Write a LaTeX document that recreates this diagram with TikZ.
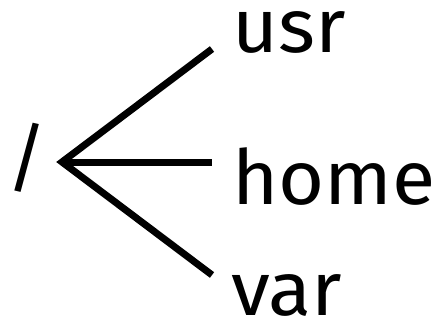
\documentclass[tikz,border=0pt]{standalone}
\usepackage{fontspec}
\setmainfont{Fira Sans}[FakeStretch=1.04]
\begin{document}
\begin{tikzpicture}[x=1pt, y=-1pt,
  label/.style={font=\fontsize{76}{76}\selectfont, inner sep=0pt, anchor=base west},
  branch/.style={line width=7pt, line cap=butt, line join=miter}]
  \useasboundingbox (0,0) rectangle (435,326);
  % root and the children
  \node[label] (root) at (6,184) {/};
  \node[label] (usr)  at (232,53)  {usr};
  \node[label] (home) at (232,204) {home};
  \node[label] (var)  at (231,315) {var};
  % branch points
  \coordinate (hub) at (62,162);
  \coordinate (usrEnd)  at (212,49);
  \coordinate (homeEnd) at (212,162);
  \coordinate (varEnd)  at (212,275);
  \draw[branch] (usrEnd) -- (hub) -- (varEnd);
  \draw[branch] (hub) -- (homeEnd);
\end{tikzpicture}
\end{document}
